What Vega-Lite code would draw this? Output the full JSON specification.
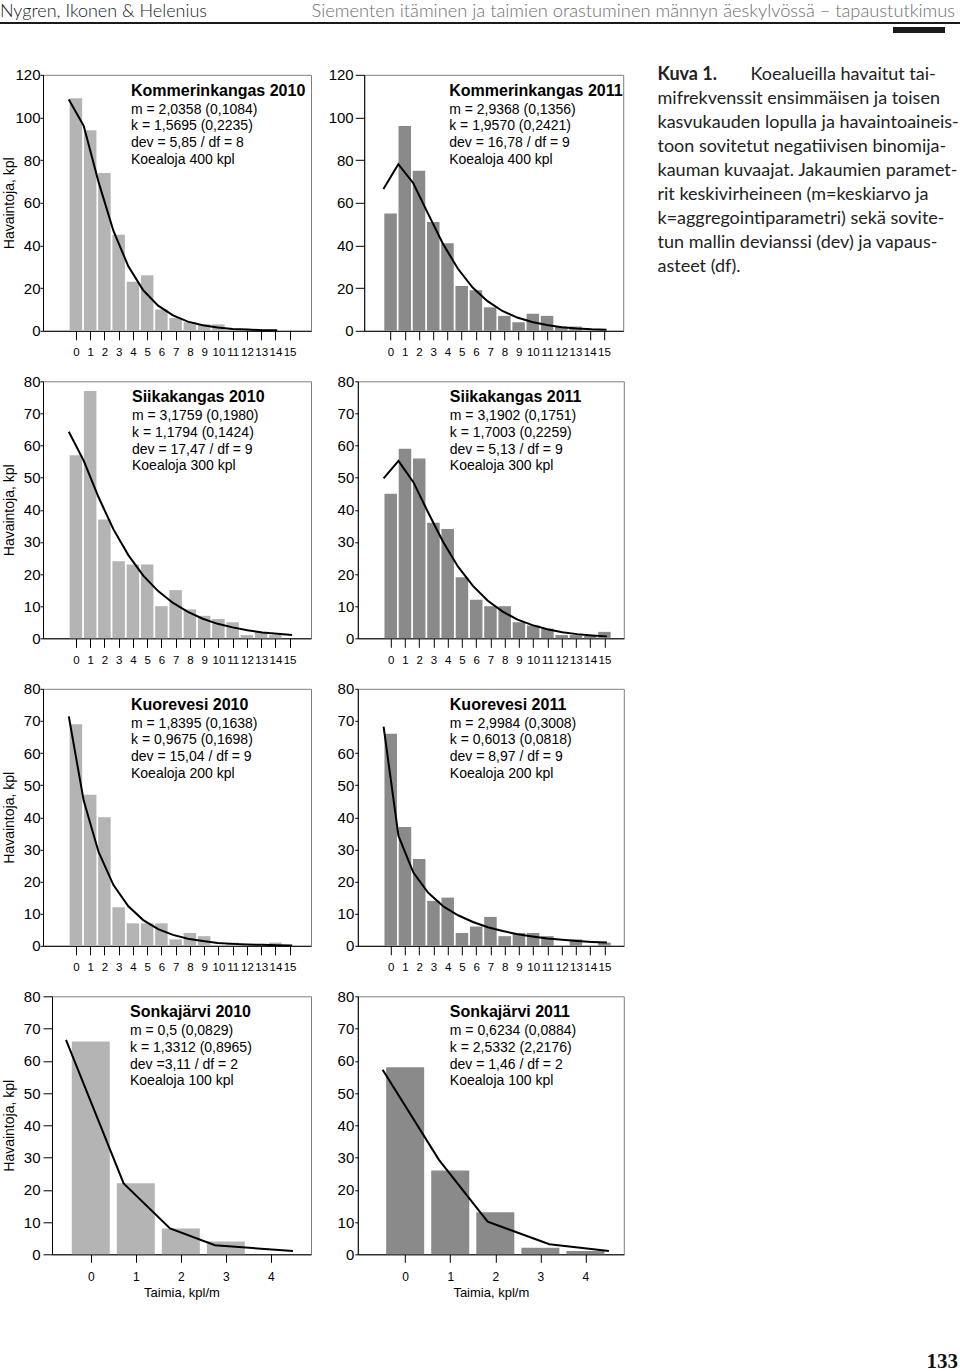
{
  "$schema": "https://vega.github.io/schema/vega-lite/v6.json",
  "padding": {"left": 0, "top": 2, "right": 0, "bottom": 0},
  "title": {"text": "133", "orient": "bottom", "anchor": "end", "frame": "bounds", "dx": -2, "offset": 51, "font": "Liberation Serif", "fontSize": 21, "fontWeight": "bold", "color": "#111"},
  "spacing": 32.8,
  "vconcat": [
    {
      "spacing": 0,
      "vconcat": [
        {
          "width": 955, "height": 20,
          "view": {"stroke": null},
          "data": {"values": [
            {"part": "author", "text": "Nygren, Ikonen & Helenius"},
            {"part": "article", "text": "Siementen itäminen ja taimien orastuminen männyn äeskylvössä – tapaustutkimus"}
          ]},
          "encoding": {
            "x": {"field": "part", "type": "nominal", "scale": {"type": "point", "domain": ["author", "article"], "padding": 0}, "axis": null},
            "text": {"field": "text"}
          },
          "layer": [
            {"transform": [{"filter": "datum.part === 'author'"}], "mark": {"type": "text", "align": "left", "baseline": "middle", "font": "Lato", "fontSize": 18, "fontWeight": 300, "color": "#1a1a1a"}},
            {"transform": [{"filter": "datum.part === 'article'"}], "mark": {"type": "text", "align": "right", "baseline": "middle", "font": "Lato", "fontSize": 18.3, "fontWeight": 300, "color": "#6e6e6e"}}
          ]
        },
        {
          "spacing": 3,
          "vconcat": [
            {"width": 960, "height": 2, "view": {"fill": "#1a1a1a", "stroke": null}, "data": {"values": []}, "mark": "text"},
            {
              "spacing": 0,
              "hconcat": [
                {"width": 893, "height": 6, "view": {"stroke": null}, "data": {"values": []}, "mark": "text"},
                {"width": 52, "height": 6, "view": {"fill": "#1a1a1a", "stroke": null}, "data": {"values": []}, "mark": "text"}
              ]
            }
          ]
        }
      ]
    },
    {
      "spacing": 32.5,
      "hconcat": [
        {
          "spacing": 14.5,
          "vconcat": [
            {
              "spacing": 0,
              "hconcat": [
                {"width": 1, "height": 1, "view": {"stroke": null}, "data": {"values": []}, "mark": "text"},
                {
                  "spacing": 15.2,
                  "hconcat": [
                    {
                      "width": 268, "height": 256,
                      "title": {"text": "Kommerinkangas 2010", "subtitle": ["m = 2,0358 (0,1084)", "k = 1,5695 (0,2235)", "dev = 5,85 / df = 8", "Koealoja 400 kpl"], "dx": 88},
                      "encoding": {
                        "x": {"field": "taimia", "type": "quantitative", "scale": {"domain": [-1.96, 16.15], "nice": false, "zero": false}, "axis": {"title": null, "values": [0,1,2,3,4,5,6,7,8,9,10,11,12,13,14,15]}},
                        "y": {"field": "havaintoja", "type": "quantitative", "scale": {"domain": [0, 120], "nice": false}, "axis": {"title": "Havaintoja, kpl", "values": [0,20,40,60,80,100,120], "tickSize": 3, "labelPadding": 0, "minExtent": 24, "maxExtent": 24, "titlePadding": 3}}
                      },
                      "layer": [
                        {"data": {"values": [
                          {"taimia": 0, "havaintoja": 109}, {"taimia": 1, "havaintoja": 94}, {"taimia": 2, "havaintoja": 74}, {"taimia": 3, "havaintoja": 45},
                          {"taimia": 4, "havaintoja": 23}, {"taimia": 5, "havaintoja": 26}, {"taimia": 6, "havaintoja": 10}, {"taimia": 7, "havaintoja": 6},
                          {"taimia": 8, "havaintoja": 4}, {"taimia": 9, "havaintoja": 3}, {"taimia": 10, "havaintoja": 3}
                        ]}, "mark": {"type": "bar", "orient": "vertical", "width": 12.5, "color": "#b4b4b4"}},
                        {"data": {"values": [
                          {"taimia": -0.5, "havaintoja": 108.4}, {"taimia": 0.545, "havaintoja": 96.1}, {"taimia": 1.59, "havaintoja": 69.7}, {"taimia": 2.635, "havaintoja": 46.8},
                          {"taimia": 3.68, "havaintoja": 30.2}, {"taimia": 4.725, "havaintoja": 19.0}, {"taimia": 5.77, "havaintoja": 11.8}, {"taimia": 6.815, "havaintoja": 7.2},
                          {"taimia": 7.86, "havaintoja": 4.3}, {"taimia": 8.905, "havaintoja": 2.6}, {"taimia": 9.95, "havaintoja": 1.6}, {"taimia": 10.995, "havaintoja": 0.9},
                          {"taimia": 12.04, "havaintoja": 0.6}, {"taimia": 13.085, "havaintoja": 0.3}, {"taimia": 14.13, "havaintoja": 0.2}
                        ]}, "mark": {"type": "line", "color": "#000", "strokeWidth": 2}}
                      ]
                    },
                    {
                      "width": 259, "height": 256,
                      "title": {"text": "Kommerinkangas 2011", "subtitle": ["m = 2,9368 (0,1356)", "k = 1,9570 (0,2421)", "dev = 16,78 / df = 9", "Koealoja 400 kpl"], "dx": 85},
                      "encoding": {
                        "x": {"field": "taimia", "type": "quantitative", "scale": {"domain": [-1.5, 16.0], "nice": false, "zero": false}, "axis": {"title": null, "values": [0,1,2,3,4,5,6,7,8,9,10,11,12,13,14,15]}},
                        "y": {"field": "havaintoja", "type": "quantitative", "scale": {"domain": [0, 120], "nice": false}, "axis": {"title": null, "values": [0,20,40,60,80,100,120], "tickSize": 9, "labelPadding": 2}}
                      },
                      "layer": [
                        {"data": {"values": [
                          {"taimia": 0, "havaintoja": 55}, {"taimia": 1, "havaintoja": 96}, {"taimia": 2, "havaintoja": 75}, {"taimia": 3, "havaintoja": 51},
                          {"taimia": 4, "havaintoja": 41}, {"taimia": 5, "havaintoja": 21}, {"taimia": 6, "havaintoja": 19}, {"taimia": 7, "havaintoja": 11},
                          {"taimia": 8, "havaintoja": 7}, {"taimia": 9, "havaintoja": 4}, {"taimia": 10, "havaintoja": 8}, {"taimia": 11, "havaintoja": 7},
                          {"taimia": 12, "havaintoja": 2}, {"taimia": 13, "havaintoja": 2}
                        ]}, "mark": {"type": "bar", "orient": "vertical", "width": 12.5, "color": "#8a8a8a"}},
                        {"data": {"values": [
                          {"taimia": -0.5, "havaintoja": 66.5}, {"taimia": 0.545, "havaintoja": 78.1}, {"taimia": 1.59, "havaintoja": 69.3}, {"taimia": 2.635, "havaintoja": 54.9},
                          {"taimia": 3.68, "havaintoja": 40.8}, {"taimia": 4.725, "havaintoja": 29.2}, {"taimia": 5.77, "havaintoja": 20.3}, {"taimia": 6.815, "havaintoja": 13.9},
                          {"taimia": 7.86, "havaintoja": 9.3}, {"taimia": 8.905, "havaintoja": 6.2}, {"taimia": 9.95, "havaintoja": 4.1}, {"taimia": 10.995, "havaintoja": 2.7},
                          {"taimia": 12.04, "havaintoja": 1.7}, {"taimia": 13.085, "havaintoja": 1.1}, {"taimia": 14.13, "havaintoja": 0.7}, {"taimia": 15.175, "havaintoja": 0.5}
                        ]}, "mark": {"type": "line", "color": "#000", "strokeWidth": 2}}
                      ]
                    }
                  ]
                }
              ]
            },
            {
              "spacing": 0,
              "hconcat": [
                {"width": 1, "height": 1, "view": {"stroke": null}, "data": {"values": []}, "mark": "text"},
                {
                  "spacing": 23.8,
                  "hconcat": [
                    {
                      "width": 268, "height": 257,
                      "title": {"text": "Siikakangas 2010", "subtitle": ["m = 3,1759 (0,1980)", "k = 1,1794 (0,1424)", "dev = 17,47 / df = 9", "Koealoja 300 kpl"], "dx": 89},
                      "encoding": {
                        "x": {"field": "taimia", "type": "quantitative", "scale": {"domain": [-1.96, 16.15], "nice": false, "zero": false}, "axis": {"title": null, "values": [0,1,2,3,4,5,6,7,8,9,10,11,12,13,14,15]}},
                        "y": {"field": "havaintoja", "type": "quantitative", "scale": {"domain": [0, 80], "nice": false}, "axis": {"title": "Havaintoja, kpl", "values": [0,10,20,30,40,50,60,70,80], "tickSize": 3, "labelPadding": 0, "minExtent": 24, "maxExtent": 24, "titlePadding": 3}}
                      },
                      "layer": [
                        {"data": {"values": [
                          {"taimia": 0, "havaintoja": 57}, {"taimia": 1, "havaintoja": 77}, {"taimia": 2, "havaintoja": 37}, {"taimia": 3, "havaintoja": 24},
                          {"taimia": 4, "havaintoja": 23}, {"taimia": 5, "havaintoja": 23}, {"taimia": 6, "havaintoja": 10}, {"taimia": 7, "havaintoja": 15},
                          {"taimia": 8, "havaintoja": 9}, {"taimia": 9, "havaintoja": 7}, {"taimia": 10, "havaintoja": 6}, {"taimia": 11, "havaintoja": 5},
                          {"taimia": 12, "havaintoja": 1}, {"taimia": 13, "havaintoja": 2}, {"taimia": 14, "havaintoja": 1}
                        ]}, "mark": {"type": "bar", "orient": "vertical", "width": 12.5, "color": "#b4b4b4"}},
                        {"data": {"values": [
                          {"taimia": -0.5, "havaintoja": 64.3}, {"taimia": 0.545, "havaintoja": 55.3}, {"taimia": 1.59, "havaintoja": 43.9}, {"taimia": 2.635, "havaintoja": 33.9},
                          {"taimia": 3.68, "havaintoja": 25.9}, {"taimia": 4.725, "havaintoja": 19.5}, {"taimia": 5.77, "havaintoja": 14.7}, {"taimia": 6.815, "havaintoja": 11.0},
                          {"taimia": 7.86, "havaintoja": 8.2}, {"taimia": 8.905, "havaintoja": 6.1}, {"taimia": 9.95, "havaintoja": 4.5}, {"taimia": 10.995, "havaintoja": 3.4},
                          {"taimia": 12.04, "havaintoja": 2.5}, {"taimia": 13.085, "havaintoja": 1.8}, {"taimia": 14.13, "havaintoja": 1.4}, {"taimia": 15.175, "havaintoja": 1.0}
                        ]}, "mark": {"type": "line", "color": "#000", "strokeWidth": 2}}
                      ]
                    },
                    {
                      "width": 266, "height": 257,
                      "title": {"text": "Siikakangas 2011", "subtitle": ["m = 3,1902 (0,1751)", "k = 1,7003 (0,2259)", "dev = 5,13 / df = 9", "Koealoja 300 kpl"], "dx": 92},
                      "encoding": {
                        "x": {"field": "taimia", "type": "quantitative", "scale": {"domain": [-1.96, 16.01], "nice": false, "zero": false}, "axis": {"title": null, "values": [0,1,2,3,4,5,6,7,8,9,10,11,12,13,14,15]}},
                        "y": {"field": "havaintoja", "type": "quantitative", "scale": {"domain": [0, 80], "nice": false}, "axis": {"title": null, "values": [0,10,20,30,40,50,60,70,80], "tickSize": 3, "labelPadding": 1}}
                      },
                      "layer": [
                        {"data": {"values": [
                          {"taimia": 0, "havaintoja": 45}, {"taimia": 1, "havaintoja": 59}, {"taimia": 2, "havaintoja": 56}, {"taimia": 3, "havaintoja": 36},
                          {"taimia": 4, "havaintoja": 34}, {"taimia": 5, "havaintoja": 19}, {"taimia": 6, "havaintoja": 12}, {"taimia": 7, "havaintoja": 10},
                          {"taimia": 8, "havaintoja": 10}, {"taimia": 9, "havaintoja": 5}, {"taimia": 10, "havaintoja": 4}, {"taimia": 11, "havaintoja": 3},
                          {"taimia": 12, "havaintoja": 1}, {"taimia": 13, "havaintoja": 1}, {"taimia": 14, "havaintoja": 1}, {"taimia": 15, "havaintoja": 2}
                        ]}, "mark": {"type": "bar", "orient": "vertical", "width": 12.5, "color": "#8a8a8a"}},
                        {"data": {"values": [
                          {"taimia": -0.5, "havaintoja": 49.8}, {"taimia": 0.545, "havaintoja": 55.2}, {"taimia": 1.59, "havaintoja": 48.6}, {"taimia": 2.635, "havaintoja": 39.1},
                          {"taimia": 3.68, "havaintoja": 30.0}, {"taimia": 4.725, "havaintoja": 22.3}, {"taimia": 5.77, "havaintoja": 16.3}, {"taimia": 6.815, "havaintoja": 11.7},
                          {"taimia": 7.86, "havaintoja": 8.3}, {"taimia": 8.905, "havaintoja": 5.8}, {"taimia": 9.95, "havaintoja": 4.1}, {"taimia": 10.995, "havaintoja": 2.8},
                          {"taimia": 12.04, "havaintoja": 1.9}, {"taimia": 13.085, "havaintoja": 1.3}, {"taimia": 14.13, "havaintoja": 0.9}, {"taimia": 15.175, "havaintoja": 0.6}
                        ]}, "mark": {"type": "line", "color": "#000", "strokeWidth": 2}}
                      ]
                    }
                  ]
                }
              ]
            },
            {
              "spacing": 0,
              "hconcat": [
                {"width": 1, "height": 1, "view": {"stroke": null}, "data": {"values": []}, "mark": "text"},
                {
                  "spacing": 23.8,
                  "hconcat": [
                    {
                      "width": 268, "height": 257,
                      "title": {"text": "Kuorevesi 2010", "subtitle": ["m = 1,8395 (0,1638)", "k = 0,9675 (0,1698)", "dev = 15,04 / df = 9", "Koealoja 200 kpl"], "dx": 88},
                      "encoding": {
                        "x": {"field": "taimia", "type": "quantitative", "scale": {"domain": [-1.96, 16.15], "nice": false, "zero": false}, "axis": {"title": null, "values": [0,1,2,3,4,5,6,7,8,9,10,11,12,13,14,15]}},
                        "y": {"field": "havaintoja", "type": "quantitative", "scale": {"domain": [0, 80], "nice": false}, "axis": {"title": "Havaintoja, kpl", "values": [0,10,20,30,40,50,60,70,80], "tickSize": 3, "labelPadding": 0, "minExtent": 24, "maxExtent": 24, "titlePadding": 3}}
                      },
                      "layer": [
                        {"data": {"values": [
                          {"taimia": 0, "havaintoja": 69}, {"taimia": 1, "havaintoja": 47}, {"taimia": 2, "havaintoja": 40}, {"taimia": 3, "havaintoja": 12},
                          {"taimia": 4, "havaintoja": 7}, {"taimia": 5, "havaintoja": 7}, {"taimia": 6, "havaintoja": 7}, {"taimia": 7, "havaintoja": 2},
                          {"taimia": 8, "havaintoja": 4}, {"taimia": 9, "havaintoja": 3}, {"taimia": 11, "havaintoja": 1}, {"taimia": 14, "havaintoja": 1}
                        ]}, "mark": {"type": "bar", "orient": "vertical", "width": 12.5, "color": "#b4b4b4"}},
                        {"data": {"values": [
                          {"taimia": -0.5, "havaintoja": 71.4}, {"taimia": 0.545, "havaintoja": 45.2}, {"taimia": 1.59, "havaintoja": 29.2}, {"taimia": 2.635, "havaintoja": 18.9},
                          {"taimia": 3.68, "havaintoja": 12.3}, {"taimia": 4.725, "havaintoja": 8.0}, {"taimia": 5.77, "havaintoja": 5.2}, {"taimia": 6.815, "havaintoja": 3.4},
                          {"taimia": 7.86, "havaintoja": 2.2}, {"taimia": 8.905, "havaintoja": 1.5}, {"taimia": 9.95, "havaintoja": 0.9}, {"taimia": 10.995, "havaintoja": 0.6},
                          {"taimia": 12.04, "havaintoja": 0.4}, {"taimia": 13.085, "havaintoja": 0.3}, {"taimia": 14.13, "havaintoja": 0.2}, {"taimia": 15.175, "havaintoja": 0.1}
                        ]}, "mark": {"type": "line", "color": "#000", "strokeWidth": 2}}
                      ]
                    },
                    {
                      "width": 266, "height": 257,
                      "title": {"text": "Kuorevesi 2011", "subtitle": ["m = 2,9984 (0,3008)", "k = 0,6013 (0,0818)", "dev = 8,97 / df = 9", "Koealoja 200 kpl"], "dx": 92},
                      "encoding": {
                        "x": {"field": "taimia", "type": "quantitative", "scale": {"domain": [-1.96, 16.01], "nice": false, "zero": false}, "axis": {"title": null, "values": [0,1,2,3,4,5,6,7,8,9,10,11,12,13,14,15]}},
                        "y": {"field": "havaintoja", "type": "quantitative", "scale": {"domain": [0, 80], "nice": false}, "axis": {"title": null, "values": [0,10,20,30,40,50,60,70,80], "tickSize": 3, "labelPadding": 1}}
                      },
                      "layer": [
                        {"data": {"values": [
                          {"taimia": 0, "havaintoja": 66}, {"taimia": 1, "havaintoja": 37}, {"taimia": 2, "havaintoja": 27}, {"taimia": 3, "havaintoja": 14},
                          {"taimia": 4, "havaintoja": 15}, {"taimia": 5, "havaintoja": 4}, {"taimia": 6, "havaintoja": 6}, {"taimia": 7, "havaintoja": 9},
                          {"taimia": 8, "havaintoja": 3}, {"taimia": 9, "havaintoja": 4}, {"taimia": 10, "havaintoja": 4}, {"taimia": 11, "havaintoja": 3},
                          {"taimia": 13, "havaintoja": 2}, {"taimia": 15, "havaintoja": 1}
                        ]}, "mark": {"type": "bar", "orient": "vertical", "width": 12.5, "color": "#8a8a8a"}},
                        {"data": {"values": [
                          {"taimia": -0.5, "havaintoja": 68.2}, {"taimia": 0.545, "havaintoja": 34.2}, {"taimia": 1.59, "havaintoja": 22.8}, {"taimia": 2.635, "havaintoja": 16.5},
                          {"taimia": 3.68, "havaintoja": 12.3}, {"taimia": 4.725, "havaintoja": 9.5}, {"taimia": 5.77, "havaintoja": 7.4}, {"taimia": 6.815, "havaintoja": 5.8},
                          {"taimia": 7.86, "havaintoja": 4.6}, {"taimia": 8.905, "havaintoja": 3.6}, {"taimia": 9.95, "havaintoja": 2.9}, {"taimia": 10.995, "havaintoja": 2.3},
                          {"taimia": 12.04, "havaintoja": 1.9}, {"taimia": 13.085, "havaintoja": 1.5}, {"taimia": 14.13, "havaintoja": 1.2}, {"taimia": 15.175, "havaintoja": 1.0}
                        ]}, "mark": {"type": "line", "color": "#000", "strokeWidth": 2}}
                      ]
                    }
                  ]
                }
              ]
            },
            {
              "spacing": 0,
              "hconcat": [
                {"width": 1, "height": 1, "view": {"stroke": null}, "data": {"values": []}, "mark": "text"},
                {
                  "spacing": 23.8,
                  "hconcat": [
                    {
                      "width": 259, "height": 258,
                      "title": {"text": "Sonkajärvi 2010", "subtitle": ["m = 0,5 (0,0829)", "k = 1,3312 (0,8965)", "dev =3,11 / df = 2", "Koealoja 100 kpl"], "dx": 78},
                      "encoding": {
                        "x": {"field": "taimia", "type": "quantitative", "scale": {"domain": [-0.75, 4.78], "nice": false, "zero": false}, "axis": {"title": "Taimia, kpl/m", "values": [0,1,2,3,4], "tickSize": 8, "labelPadding": 9, "labelFont": "Liberation Sans", "labelFontSize": 12, "titleFontSize": 13, "titlePadding": 4}},
                        "y": {"field": "havaintoja", "type": "quantitative", "scale": {"domain": [0, 80], "nice": false}, "axis": {"title": "Havaintoja, kpl", "values": [0,10,20,30,40,50,60,70,80], "tickSize": 9, "labelPadding": 3, "minExtent": 33, "maxExtent": 33, "titlePadding": 3}}
                      },
                      "layer": [
                        {"data": {"values": [
                          {"taimia": 0, "havaintoja": 66}, {"taimia": 1, "havaintoja": 22}, {"taimia": 2, "havaintoja": 8}, {"taimia": 3, "havaintoja": 4}
                        ]}, "mark": {"type": "bar", "orient": "vertical", "width": 38, "color": "#b4b4b4"}},
                        {"data": {"values": [
                          {"taimia": -0.55, "havaintoja": 66.5}, {"taimia": 0.73, "havaintoja": 22}, {"taimia": 1.76, "havaintoja": 8}, {"taimia": 2.76, "havaintoja": 2.8}, {"taimia": 4.49, "havaintoja": 1.0}
                        ]}, "mark": {"type": "line", "color": "#000", "strokeWidth": 2}}
                      ]
                    },
                    {
                      "width": 266, "height": 258,
                      "title": {"text": "Sonkajärvi 2011", "subtitle": ["m = 0,6234 (0,0884)", "k = 2,5332 (2,2176)", "dev = 1,46 / df = 2", "Koealoja 100 kpl"], "dx": 92},
                      "encoding": {
                        "x": {"field": "taimia", "type": "quantitative", "scale": {"domain": [-0.94, 4.74], "nice": false, "zero": false}, "axis": {"title": "Taimia, kpl/m", "values": [0,1,2,3,4], "tickSize": 8, "labelPadding": 9, "labelFont": "Liberation Sans", "labelFontSize": 12, "titleFontSize": 13, "titlePadding": 4}},
                        "y": {"field": "havaintoja", "type": "quantitative", "scale": {"domain": [0, 80], "nice": false}, "axis": {"title": null, "values": [0,10,20,30,40,50,60,70,80], "tickSize": 3, "labelPadding": 1}}
                      },
                      "layer": [
                        {"data": {"values": [
                          {"taimia": 0, "havaintoja": 58}, {"taimia": 1, "havaintoja": 26}, {"taimia": 2, "havaintoja": 13}, {"taimia": 3, "havaintoja": 2}, {"taimia": 4, "havaintoja": 1}
                        ]}, "mark": {"type": "bar", "orient": "vertical", "width": 38, "color": "#8a8a8a"}},
                        {"data": {"values": [
                          {"taimia": -0.5, "havaintoja": 57.2}, {"taimia": 0.75, "havaintoja": 29.3}, {"taimia": 1.83, "havaintoja": 10.1}, {"taimia": 3.2, "havaintoja": 3.1}, {"taimia": 4.52, "havaintoja": 1.0}
                        ]}, "mark": {"type": "line", "color": "#000", "strokeWidth": 2}}
                      ]
                    }
                  ]
                }
              ]
            }
          ]
        },
        {
          "width": 301, "height": 225,
          "view": {"stroke": null},
          "data": {"values": []},
          "mark": "text",
          "title": {
            "text": "Kuva 1.",
            "subtitle": [
              "\u200b\u2003\u2003\u2003\u2003\u2003\u2003\u2002\u2006Koealueilla havaitut tai-",
              "mifrekvenssit ensimmäisen ja toisen",
              "kasvukauden lopulla ja havaintoaineis-",
              "toon sovitetut negatiivisen binomija-",
              "kauman kuvaajat. Jakaumien paramet-",
              "rit keskivirheineen (m=keskiarvo ja",
              "k=aggregointiparametri) sekä sovite-",
              "tun mallin devianssi (dev) ja vapaus-",
              "asteet (df)."
            ],
            "anchor": "start", "frame": "group", "dx": 0, "offset": -201,
            "font": "Lato", "fontSize": 18, "fontWeight": "bold", "color": "#222",
            "subtitleFont": "Lato", "subtitleFontSize": 18, "subtitleFontWeight": "normal", "subtitleColor": "#222",
            "subtitleLineHeight": 24, "subtitlePadding": -18
          }
        }
      ]
    }
  ],
  "config": {
    "view": {"stroke": "#808080", "strokeWidth": 1},
    "axis": {"grid": false, "domainColor": "#000", "tickColor": "#000", "labelColor": "#000", "titleColor": "#000", "titleFontWeight": "normal", "titleFont": "Liberation Sans", "labelFont": "Liberation Sans"},
    "axisX": {"tickSize": 9, "labelPadding": 7, "labelFontSize": 11.5, "labelFont": "Liberation Sans", "labelOverlap": false, "labelFlush": false, "titleFontSize": 13},
    "axisY": {"tickSize": 6, "labelPadding": 2, "labelFontSize": 15, "titleFontSize": 14, "labelOverlap": false},
    "title": {"anchor": "start", "frame": "group", "dx": 87, "offset": -99, "font": "Liberation Sans", "fontSize": 16, "fontWeight": "bold", "color": "#000", "subtitleFont": "Liberation Sans", "subtitleFontSize": 14, "subtitleColor": "#000", "subtitleLineHeight": 16.7, "subtitlePadding": 4}
  }
}
